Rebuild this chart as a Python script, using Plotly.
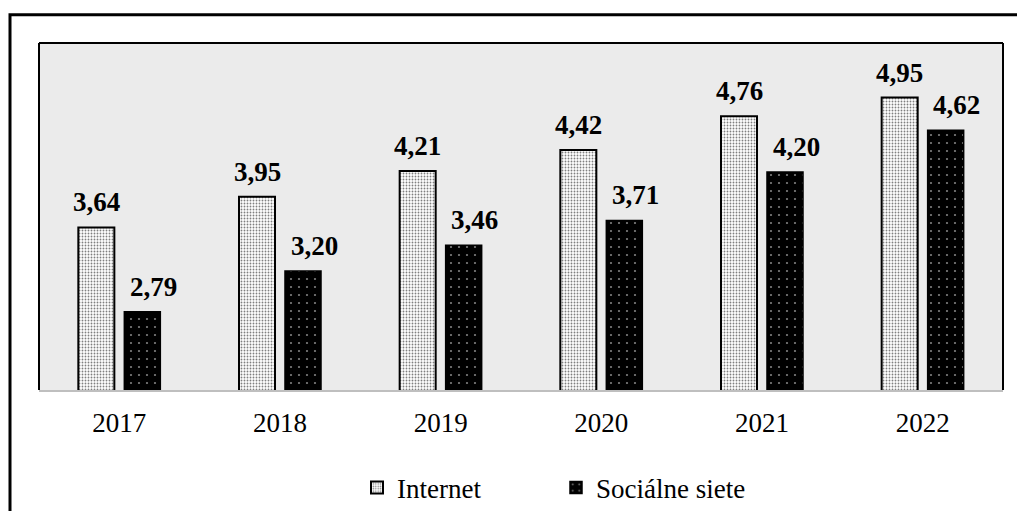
import plotly.graph_objects as go

# Data
years = ["2017", "2018", "2019", "2020", "2021", "2022"]
internet = [3.64, 3.95, 4.21, 4.42, 4.76, 4.95]
socialne = [2.79, 3.20, 3.46, 3.71, 4.20, 4.62]
series_names = ["Internet", "Sociálne siete"]

W, H = 1017, 511
M = dict(l=39, r=14, t=43, b=121)
PW = W - M["l"] - M["r"]
PH = H - M["t"] - M["b"]


def px_x(p):
    return (p - M["l"]) / PW


def px_y(p):
    return (H - M["b"] - p) / PH


FONT = "Liberation Serif"

fig = go.Figure()
fig.add_trace(go.Bar(
    x=years, y=internet, name=series_names[0],
    marker=dict(
        color="white",
        line=dict(color="black", width=2),
        pattern=dict(shape=".", fgcolor="black", bgcolor="white", size=3, solidity=0.3),
    ),
))
fig.add_trace(go.Bar(
    x=years, y=socialne, name=series_names[1],
    marker=dict(
        color="black",
        line=dict(color="black", width=1.5),
        pattern=dict(shape=".", fgcolor="white", bgcolor="black", size=8, solidity=0.06),
    ),
))

# value labels above the bars (category axis -> use the category index)
label_font = dict(family=FONT, size=27, color="black", weight="bold")
annotations = []
for i, v in enumerate(internet):
    annotations.append(dict(x=i, y=v, xref="x", yref="y", text=f"{v:.2f}".replace(".", ","),
                            showarrow=False, xanchor="center", yanchor="bottom",
                            xshift=-23, yshift=8, font=label_font))
for i, v in enumerate(socialne):
    annotations.append(dict(x=i, y=v, xref="x", yref="y", text=f"{v:.2f}".replace(".", ","),
                            showarrow=False, xanchor="center", yanchor="bottom",
                            xshift=34, yshift=8, font=label_font))

shapes = [
    # outer frame
    dict(type="rect", xref="paper", yref="paper",
         x0=px_x(10), x1=px_x(W + 20), y0=px_y(H + 20), y1=px_y(14.7),
         line=dict(color="black", width=3), fillcolor="rgba(0,0,0,0)", layer="above"),
    # plot area border (left, top, right)
    dict(type="line", xref="paper", yref="paper", x0=0, x1=0, y0=0, y1=1,
         line=dict(color="black", width=2), layer="above"),
    dict(type="line", xref="paper", yref="paper", x0=0, x1=1, y0=1, y1=1,
         line=dict(color="black", width=2), layer="above"),
    dict(type="line", xref="paper", yref="paper", x0=1, x1=1, y0=0, y1=1,
         line=dict(color="black", width=2), layer="above"),
]

fig.update_layout(
    width=W, height=H,
    margin=M,
    barmode="group",
    bargap=0.4275,
    bargroupgap=0.217,
    paper_bgcolor="white",
    plot_bgcolor="#EBEBEB",
    font=dict(family=FONT, size=27, color="black"),
    showlegend=True,
    legend=dict(
        orientation="h",
        xref="container", yref="container",
        x=357 / W, xanchor="left",
        y=(H - 488) / H, yanchor="middle",
        entrywidth=154,
        font=dict(family=FONT, size=27, color="black"),
        bgcolor="rgba(0,0,0,0)",
        itemclick=False, itemdoubleclick=False,
    ),
    xaxis=dict(
        type="category",
        range=[-0.5, len(years) - 0.5],
        showline=True, linecolor="#BFBFBF", linewidth=2,
        ticks="", showgrid=False,
        ticklabelstandoff=8,
        tickfont=dict(family=FONT, size=27, color="black"),
    ),
    yaxis=dict(
        range=[2, 5.5], visible=False, showgrid=False, zeroline=False,
    ),
    annotations=annotations,
    shapes=shapes,
)

fig.write_html("out.html")
